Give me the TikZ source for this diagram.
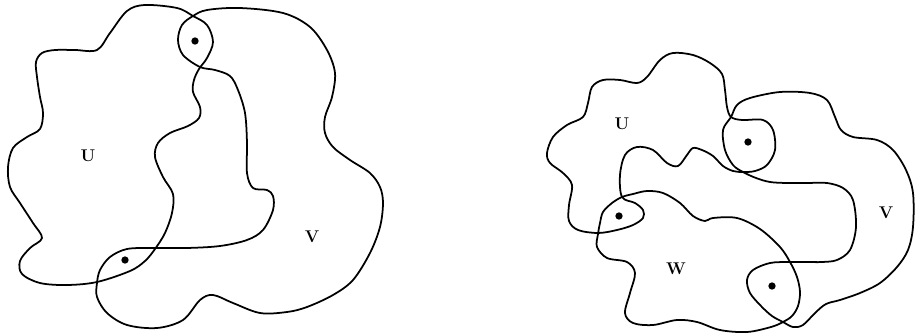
\documentclass[tikz,border=0pt]{standalone}
\begin{document}
\begin{tikzpicture}[x=0.03cm,y=-0.03cm,
  blob/.style={line width=1.5pt, black},
  dot/.style={circle, fill=black, inner sep=0pt, minimum size=0.22cm},
  lbl/.style={font=\fontsize{14.5}{16}\selectfont\bfseries, inner sep=0pt}]
\useasboundingbox (0,0) rectangle (916,334);
% ---------- left figure ----------
% U
\draw[blob] plot[smooth cycle, tension=0.55] coordinates {
 (97,50) (110,33) (127,11) (145,5) (177,8) (193,16) (207,25) (213,42) (207,58)
 (199,69) (194,80) (193,92) (200,107) (199,118) (188,126) (170,133) (158,143)
 (155,157) (163,177) (173,194) (172,213) (165,233) (155,249) (145,261) (130,271)
 (97,282) (67,285) (40,283) (22,274) (20,261) (30,248) (42,238) (33,223)
 (20,203) (10,187) (8,167) (13,148) (27,137) (40,129) (43,113) (40,97)
 (37,77) (36,62) (42,53) (55,50) (75,50)};
% V
\draw[blob] plot[smooth cycle, tension=0.55] coordinates {
 (193,16) (182,25) (178,40) (183,55) (200,67) (215,70) (230,76) (238,90)
 (245,113) (247,143) (247,173) (253,188) (267,190) (273,196) (273,210)
 (263,230) (247,240) (220,246) (187,248) (153,248) (127,249) (110,257)
 (100,270) (97,283) (97,297) (107,313) (127,325) (157,328) (183,320)
 (200,300) (213,295) (233,303) (260,313) (287,312) (307,307) (333,295)
 (353,280) (370,253) (380,227) (383,203) (380,187) (370,173) (350,160)
 (333,147) (325,133) (325,117) (332,97) (335,73) (327,50) (310,27) (283,13)
 (240,8) (207,10)};
\node[dot] (d1) at (195,41) {};
\node[dot] (d2) at (125,260) {};
\node[lbl] (lU) at (88,156) {U};
\node[lbl] (lV) at (312,237) {V};
% ---------- right figure ----------
% U
\draw[blob] plot[smooth cycle, tension=0.55] coordinates {
 (547,153) (553,137) (567,125) (583,117) (588,103) (592,87) (603,80) (620,80)
 (637,83) (647,77) (660,60) (673,53) (693,55) (710,63) (722,74) (725,90)
 (727,107) (731,117) (742,120) (763,120) (773,130) (775,150) (767,165)
 (755,171) (743,172) (733,171) (723,166) (713,156) (702,150) (693,148)
 (687,155) (678,166) (667,163) (653,150) (637,147) (625,155) (620,175)
 (622,197) (635,203) (643,210) (643,218) (633,225) (617,230) (598,233)
 (578,230) (569,221) (569,205) (572,185) (563,173) (550,163)};
% V
\draw[blob] plot[smooth cycle, tension=0.55] coordinates {
 (731,117) (737,105) (750,98) (780,92) (810,93) (827,100) (835,117) (841,130)
 (853,137) (877,140) (893,150) (906,170) (913,193) (913,227) (908,250)
 (897,267) (880,283) (860,293) (840,300) (826,304) (815,313) (803,325)
 (793,327) (783,322) (772,316) (761,306) (750,293) (747,280) (753,270)
 (770,263) (790,262) (807,262) (822,262) (837,260) (850,250) (856,227)
 (853,200) (843,188) (827,183) (807,183) (787,183) (770,182) (756,178)
 (743,172) (733,165) (725,150) (723,130)};
% W
\draw[blob] plot[smooth cycle, tension=0.55] coordinates {
 (622,197) (612,203) (603,212) (600,223) (598,234) (597,247) (607,258)
 (627,262) (635,273) (630,293) (625,313) (633,323) (653,325) (677,320)
 (697,322) (720,330) (747,332) (771,327) (783,322) (792,316) (798,306)
 (800,292) (797,277) (790,262) (780,247) (760,229) (737,218) (713,218)
 (705,221) (693,216) (680,203) (663,193) (647,191) (633,194)};
\node[dot] (d3) at (748,142) {};
\node[dot] (d4) at (619,216) {};
\node[dot] (d5) at (772,286) {};
\node[lbl] (rU) at (622,124) {U};
\node[lbl] (rV) at (886,213) {V};
\node[lbl] (rW) at (676,269) {W};
\end{tikzpicture}
\end{document}
